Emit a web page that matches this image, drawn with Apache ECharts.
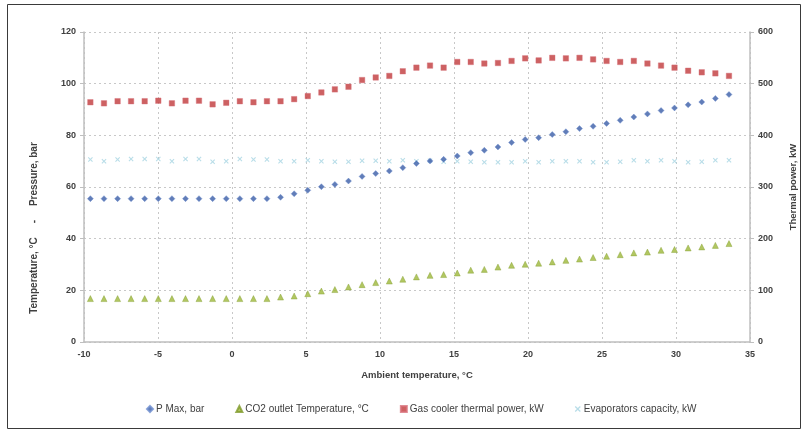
<!DOCTYPE html>
<html>
<head>
<meta charset="utf-8">
<script src="https://cdn.jsdelivr.net/npm/echarts@6/dist/echarts.min.js"></script>
<style>
html,body{margin:0;padding:0;background:#fff;}
#c{width:807px;height:433px;}
</style>
</head>
<body>
<div id="c"></div>
<script>
// Ambient temperature positions of the points
var ambient = [-9.57,-8.65,-7.73,-6.82,-5.90,-4.98,-4.06,-3.14,-2.23,-1.31,-0.39,0.53,1.45,2.36,3.28,4.20,5.12,6.04,6.95,7.87,8.79,9.71,10.63,11.54,12.46,13.38,14.30,15.22,16.13,17.05,17.97,18.89,19.81,20.72,21.64,22.56,23.48,24.40,25.31,26.23,27.15,28.07,28.99,29.90,30.82,31.74,32.66,33.58];
// P Max, bar (left axis)
var pMax = [55.5,55.5,55.5,55.5,55.5,55.5,55.5,55.5,55.5,55.5,55.5,55.5,55.5,55.5,56.0,57.4,58.7,60.1,61.0,62.3,64.1,65.2,66.2,67.5,69.1,70.1,70.7,72.0,73.3,74.2,75.5,77.2,78.4,79.1,80.3,81.4,82.6,83.5,84.6,85.8,87.1,88.3,89.6,90.6,91.8,92.9,94.3,95.8];
// CO2 outlet Temperature, °C (left axis)
var co2Out = [16.8,16.8,16.8,16.8,16.8,16.8,16.8,16.8,16.8,16.8,16.8,16.8,16.8,16.8,17.4,17.8,18.7,19.7,20.3,21.3,22.2,23.0,23.6,24.3,25.2,25.8,26.1,26.7,27.8,28.1,29.0,29.7,30.1,30.5,31.0,31.6,32.1,32.7,33.2,33.8,34.5,34.8,35.5,35.8,36.4,36.8,37.4,38.1];
// Gas cooler thermal power, kW (right axis)
var gasCooler = [464,462,466,466,466,467,462,467,467,460,463,466,464,466,466,470,476,483,489,494,507,512,515,524,531,535,531,542,542,539,540,544,549,545,550,549,550,547,544,542,544,539,535,531,525,522,520,515];
// Evaporators capacity, kW (right axis)
var evaporators = [353,350,353,354,354,354,350,354,354,349,350,354,353,353,350,350,352,350,349,349,351,351,350,352,350,351,349,350,349,348,348,348,350,348,350,350,350,348,348,349,352,350,352,350,348,349,352,352];

var seriesNames = ['P Max, bar','CO2 outlet Temperature, °C','Gas cooler thermal power, kW','Evaporators capacity, kW'];
var xTicks = {min:-10, max:35, interval:5};
var leftTitle = 'Temperature, °C     -     Pressure, bar';

function pairs(vals){ return ambient.map(function(x,i){ return [x, vals[i]]; }); }

var crossPath = 'path://M0,1.5L1.5,0L5,3.5L8.5,0L10,1.5L6.5,5L10,8.5L8.5,10L5,6.5L1.5,10L0,8.5L3.5,5Z';
var fontFam = '"Liberation Sans", Arial, sans-serif';
var lblColor = '#404040';

var chart = echarts.init(document.getElementById('c'), null, {renderer:'canvas'});
chart.setOption({
  animation:false,
  backgroundColor:'#fff',
  graphic:[
    {type:'rect', shape:{x:7.5,y:4.5,width:793,height:424}, style:{fill:'none', stroke:'#3a3a3a', lineWidth:1}, silent:true},
    {type:'text', x:34, y:228, rotation:Math.PI/2, silent:true,
     style:{text:leftTitle, fill:lblColor, font:'bold 10px "Liberation Sans", Arial, sans-serif', textAlign:'center', textVerticalAlign:'middle'}}
  ],
  grid:{left:84, right:57, top:32, bottom:91, containLabel:false},
  legend:{
    bottom:14, left:141,
    itemWidth:6, itemHeight:6, itemGap:31,
    textStyle:{fontSize:10, color:lblColor, fontFamily:fontFam, padding:[0,0,0,-2]},
    data:seriesNames
  },
  xAxis:{
    type:'value', min:xTicks.min, max:xTicks.max, interval:xTicks.interval,
    name:'Ambient temperature, °C', nameLocation:'middle', nameGap:28,
    nameTextStyle:{fontSize:9.5, color:lblColor, fontFamily:fontFam, fontWeight:'bold'},
    axisLine:{show:true, onZero:false, lineStyle:{color:'#bfbfbf', width:1.5}},
    axisTick:{show:false},
    axisLabel:{fontSize:9, color:lblColor, fontFamily:fontFam, fontWeight:'bold', margin:8},
    splitLine:{show:true, lineStyle:{color:'#c8c8c8', type:[2,3], width:1}}
  },
  yAxis:[{
    type:'value', min:0, max:120, interval:20, position:'left',
    axisLine:{show:true, onZero:false, lineStyle:{color:'#bfbfbf', width:1.5}},
    axisTick:{show:true, length:4, lineStyle:{color:'#bfbfbf'}},
    axisLabel:{fontSize:9, color:lblColor, fontFamily:fontFam, fontWeight:'bold', margin:8},
    splitLine:{show:true, lineStyle:{color:'#c8c8c8', type:[2,3], width:1}}
  },{
    type:'value', min:0, max:600, interval:100, position:'right',
    name:'Thermal power, kW', nameLocation:'middle', nameGap:38, nameRotate:90,
    nameTextStyle:{fontSize:9.5, color:lblColor, fontFamily:fontFam, fontWeight:'bold', verticalAlign:'top'},
    axisLine:{show:true, onZero:false, lineStyle:{color:'#bfbfbf', width:1.5}},
    axisTick:{show:true, length:4, lineStyle:{color:'#bfbfbf'}},
    axisLabel:{fontSize:9, color:lblColor, fontFamily:fontFam, fontWeight:'bold', margin:8},
    splitLine:{show:false}
  }],
  series:[
    {name:seriesNames[0], type:'scatter', yAxisIndex:0, symbol:'diamond', symbolSize:6,
     itemStyle:{color:'#3a5ca6', borderColor:'#6f8fcf', borderWidth:0.5}, data:pairs(pMax), z:4},
    {name:seriesNames[1], type:'scatter', yAxisIndex:0, symbol:'triangle', symbolSize:6,
     itemStyle:{color:'#9eb83a', borderColor:'#7f9a2a', borderWidth:0.5}, data:pairs(co2Out), z:3},
    {name:seriesNames[2], type:'scatter', yAxisIndex:1, symbol:'rect', symbolSize:5.5,
     itemStyle:{color:'#c0393b', borderColor:'#d8707a', borderWidth:0.5}, data:pairs(gasCooler), z:3},
    {name:seriesNames[3], type:'scatter', yAxisIndex:1, symbol:crossPath, symbolSize:5,
     itemStyle:{color:'#a6d4e2'}, data:pairs(evaporators), z:2}
  ]
});
</script>
</body>
</html>
